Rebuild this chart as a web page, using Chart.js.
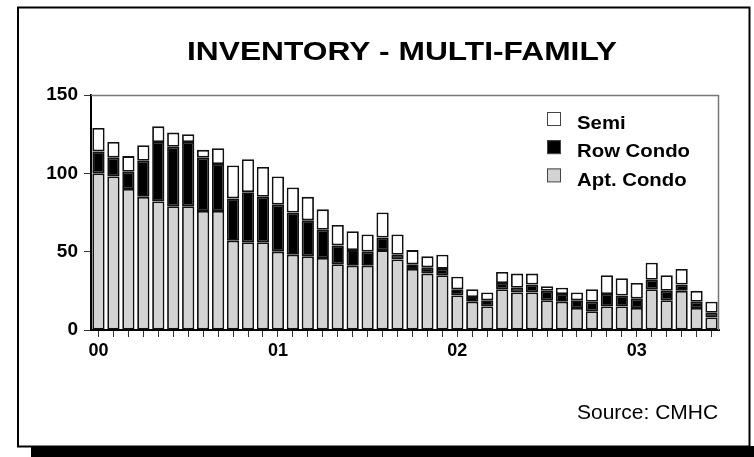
<!DOCTYPE html>
<html>
<head>
<meta charset="utf-8">
<script src="https://cdn.jsdelivr.net/npm/chart.js@4"></script>
<style>
  html, body { margin: 0; padding: 0; background: #fff; }
  #wrap { width: 754px; height: 457px; }
</style>
</head>
<body>
<div id="wrap"><canvas id="c" width="754" height="457"></canvas></div>
<script>
// ---- Data ----
const months = [
  'Jan 00','Feb 00','Mar 00','Apr 00','May 00','Jun 00','Jul 00','Aug 00','Sep 00','Oct 00','Nov 00','Dec 00',
  'Jan 01','Feb 01','Mar 01','Apr 01','May 01','Jun 01','Jul 01','Aug 01','Sep 01','Oct 01','Nov 01','Dec 01',
  'Jan 02','Feb 02','Mar 02','Apr 02','May 02','Jun 02','Jul 02','Aug 02','Sep 02','Oct 02','Nov 02','Dec 02',
  'Jan 03','Feb 03','Mar 03','Apr 03','May 03','Jun 03'
];
const yearTicks = ['00', '01', '02', '03'];
const aptCondo = [100,98,90,85,82,79,79,76,76,57,56,56,50,48,47,46,42,41,41,51,45,39,36,35,22,18,15,26,24,24,19,18,14,12,15,15,14,26,19,25,14,8];
const rowCondo = [14,12,11,23,38,38,41,34,30,27,32,29,30,27,23,18,12,10,9,8,3,3,4,4,4,3,4,4,3,5,6,5,5,6,8,7,6,6,6,4,4,3];
const semi     = [15,10,10,10,10,9,5,5,10,21,21,19,18,16,15,13,13,12,11,16,13,9,7,9,8,5,5,7,9,7,3,4,5,8,12,11,10,11,10,10,7,7];
const titleText = 'INVENTORY - MULTI-FAMILY';
const sourceText = 'Source: CMHC';

const decor = {
  id: 'decor',
  beforeDraw(chart) {
    const ctx = chart.ctx;
    ctx.save();
    ctx.fillStyle = '#fff';
    ctx.fillRect(0, 0, chart.width, chart.height);
    // shadow
    ctx.fillStyle = '#000';
    ctx.fillRect(31, 446, 723, 11);
    // frame
    ctx.strokeStyle = '#000';
    ctx.lineWidth = 2;
    ctx.strokeRect(18, 7.5, 731.5, 439);
    ctx.restore();
  },
  afterDraw(chart) {
    const ctx = chart.ctx;
    const a = chart.chartArea;
    ctx.save();
    // plot border top/right
    ctx.strokeStyle = '#777';
    ctx.lineWidth = 1.5;
    ctx.beginPath();
    ctx.moveTo(a.left, a.top + 0.5);
    ctx.lineTo(a.right - 0.5, a.top + 0.5);
    ctx.lineTo(a.right - 0.5, a.bottom);
    ctx.stroke();
    // title
    ctx.fillStyle = '#000';
    ctx.font = 'bold 26px "Liberation Sans", Arial, sans-serif';
    ctx.textBaseline = 'alphabetic';
    ctx.textAlign = 'left';
    const tw = ctx.measureText(titleText).width;
    const targetW = 430;
    ctx.save();
    ctx.translate(187, 59.5);
    ctx.scale(targetW / tw, 1);
    ctx.fillText(titleText, 0, 0);
    ctx.restore();
    // legend (reverse order of datasets)
    const ds = chart.data.datasets.slice().reverse();
    const boxTops = [112, 140.2, 168.4];
    ds.forEach((d, i) => {
      const y = boxTops[i];
      ctx.fillStyle = d.backgroundColor;
      ctx.fillRect(547, y, 13.5, 13.5);
      ctx.strokeStyle = '#444';
      ctx.lineWidth = 1;
      ctx.strokeRect(547.5, y + 0.5, 13, 13);
      ctx.fillStyle = '#000';
      ctx.font = 'bold 18.5px "Liberation Sans", Arial, sans-serif';
      ctx.save();
      ctx.translate(577, y + 17.2);
      ctx.scale(1.1, 1);
      ctx.fillText(d.label, 0, 0);
      ctx.restore();
    });
    // source
    ctx.font = '21px "Liberation Sans", Arial, sans-serif';
    ctx.fillStyle = '#000';
    ctx.fillText(sourceText, 577, 419);
    ctx.restore();
  }
};

const tickFont = { family: '"Liberation Sans", Arial, sans-serif', weight: 'bold', size: 19 };

new Chart(document.getElementById('c'), {
  type: 'bar',
  data: {
    labels: months,
    datasets: [
      { label: 'Apt. Condo', data: aptCondo, backgroundColor: '#d3d3d3', borderColor: '#111', borderWidth: 1.8, borderSkipped: false },
      { label: 'Row Condo', data: rowCondo, backgroundColor: '#000000', borderColor: '#111', borderWidth: 1.8, borderSkipped: false },
      { label: 'Semi', data: semi, backgroundColor: '#ffffff', borderColor: '#111', borderWidth: 1.8, borderSkipped: false }
    ]
  },
  options: {
    responsive: false,
    animation: false,
    devicePixelRatio: 1,
    layout: { padding: { left: 0, top: 95, right: 35, bottom: 0 } },
    plugins: { legend: { display: false }, title: { display: false }, tooltip: { enabled: false } },
    datasets: { bar: { barPercentage: 0.82, categoryPercentage: 1.0 } },
    scales: {
      x: {
        stacked: true,
        offset: true,
        grid: { display: true, drawOnChartArea: false, drawTicks: true, tickLength: 7, color: '#333', lineWidth: 1, offset: false },
        border: { display: true, color: '#000', width: 2 },
        ticks: {
          autoSkip: false, maxRotation: 0, minRotation: 0, color: '#000', padding: 3,
          font: { family: '"Liberation Sans", Arial, sans-serif', weight: 'bold', size: 18 },
          callback: (v, i) => (i % 12 === 0 ? yearTicks[i / 12] : '')
        },
        afterFit: (s) => { s.height = 127; }
      },
      y: {
        stacked: true,
        min: 0, max: 150,
        grid: { display: true, drawOnChartArea: false, drawTicks: true, tickLength: 7, color: '#333', lineWidth: 1 },
        border: { display: true, color: '#000', width: 2 },
        ticks: { stepSize: 50, color: '#000', padding: 6, font: tickFont },
        afterFit: (s) => { s.width = 91; }
      }
    }
  },
  plugins: [decor]
});
</script>
</body>
</html>
